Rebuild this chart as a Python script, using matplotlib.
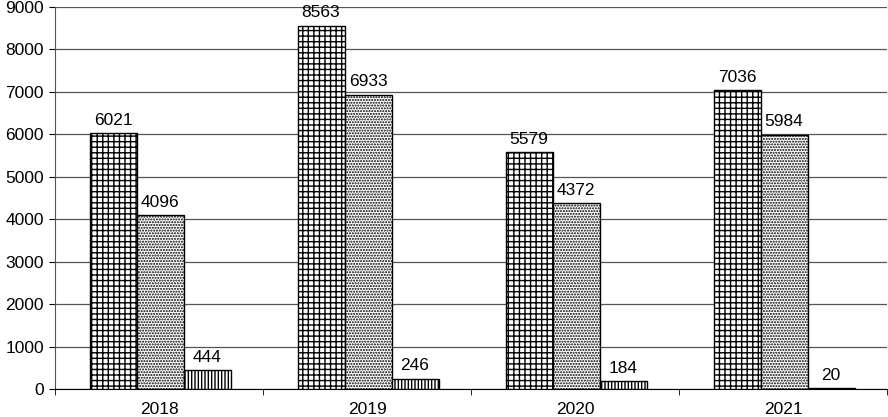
import matplotlib
matplotlib.use("Agg")
import matplotlib.pyplot as plt
import numpy as np

years = ["2018", "2019", "2020", "2021"]
series_a = [6021, 8563, 5579, 7036]
series_b = [4096, 6933, 4372, 5984]
series_c = [444, 246, 184, 20]
yticks = [0, 1000, 2000, 3000, 4000, 5000, 6000, 7000, 8000, 9000]

plt.rcParams['font.family'] = ['Liberation Sans', 'DejaVu Sans']
plt.rcParams['hatch.linewidth'] = 1.0

fig = plt.figure(figsize=(8.88, 4.17), dpi=100)
ax = fig.add_axes([55/888, 28/417, 832/888, 382/417])

x = np.arange(len(years))
w = 0.226
hatches = ['+++', '......', '|||||']
for i, (vals, h) in enumerate(zip([series_a, series_b, series_c], hatches)):
    bars = ax.bar(x + (i - 1) * w + 0.005, vals, w, color='white', edgecolor='black',
                  hatch=h, linewidth=1.0, zorder=3)
    for b, v in zip(bars, vals):
        ax.annotate(str(v), (b.get_x() + b.get_width() / 2, v),
                    xytext=(0, 4), textcoords='offset points',
                    ha='center', va='bottom', fontsize=12.5, zorder=4)

ax.set_ylim(0, 9000)
ax.set_xlim(-0.5, 3.5)
ax.set_yticks(yticks)
ax.set_yticklabels([str(t) for t in yticks], fontsize=12.5)
ax.set_xticks(x)
ax.set_xticklabels(years, fontsize=12.5)
ax.set_xticks(np.arange(-0.5, 4.0, 1.0), minor=True)
ax.tick_params(axis='x', which='major', length=0, pad=9)
ax.tick_params(axis='x', which='minor', length=4, direction='out')
ax.tick_params(axis='y', length=4, direction='out', pad=4)
ax.grid(axis='y', color='#555555', linewidth=0.9, zorder=0)
for s in ['top', 'right']:
    ax.spines[s].set_visible(False)
ax.spines['left'].set_color('#555555')
ax.spines['bottom'].set_color('black')

fig.savefig("out.png", dpi=100)
